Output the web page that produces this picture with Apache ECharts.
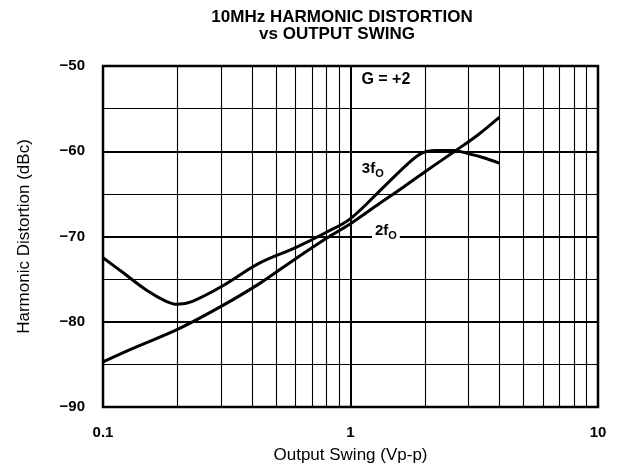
<!DOCTYPE html>
<html>
<head>
<meta charset="utf-8">
<script src="https://cdn.jsdelivr.net/npm/echarts@6/dist/echarts.min.js"></script>
<style>html,body{margin:0;padding:0;background:#fff;}#c{width:617px;height:474px;}</style>
</head>
<body>
<div id="c"></div>
<script>
const xTicks = [0.1, 1, 10];
const yTicks = [-90, -80, -70, -60, -50];
const minorX = [0.2, 0.3, 0.4, 0.5, 0.6, 0.7, 0.8, 0.9, 2, 3, 4, 5, 6, 7, 8, 9];

const x3f = [0.1, 0.12, 0.15, 0.18, 0.2, 0.23, 0.3, 0.43, 0.6, 0.8, 1.0, 1.36, 1.7, 1.95, 2.2, 2.6, 3.0, 3.4, 4.0];
const y3f = [-72.5, -74.2, -76.3, -77.6, -77.95, -77.6, -75.9, -73.1, -71.3, -69.5, -67.9, -64.2, -61.5, -60.2, -59.9, -59.9, -60.3, -60.7, -61.4];

const x2f = [0.1, 0.13, 0.2, 0.3, 0.43, 0.6, 0.8, 1.0, 1.3, 1.6, 2.0, 2.7, 3.3, 4.0];
const y2f = [-84.7, -83.2, -80.9, -78.2, -75.5, -72.6, -70.2, -68.5, -66.2, -64.4, -62.4, -59.8, -58.0, -56.0];

const FONT = "'Liberation Sans', Arial, Helvetica, sans-serif";
const chart = echarts.init(document.getElementById('c'), null, {renderer: 'canvas'});

const pair = (xs, ys) => xs.map((x, i) => [x, ys[i]]);

chart.setOption({
  backgroundColor: '#fff',
  animation: false,
  graphic: [
    {type: 'text', x: 342, y: 17, style: {text: '10MHz HARMONIC DISTORTION', textAlign: 'center', textVerticalAlign: 'middle', font: 'bold 17px ' + FONT, fill: '#000'}},
    {type: 'text', x: 337, y: 34, style: {text: 'vs OUTPUT SWING', textAlign: 'center', textVerticalAlign: 'middle', font: 'bold 17px ' + FONT, fill: '#000'}}
  ],
  grid: {left: 103, right: 19, top: 66, bottom: 67, show: true, borderColor: '#000', borderWidth: 2.5, backgroundColor: 'transparent'},
  xAxis: {
    type: 'log', logBase: 10, min: 0.1, max: 10,
    axisLine: {show: false}, axisTick: {show: false},
    axisLabel: {color: '#000', fontFamily: FONT, fontWeight: 'bold', fontSize: 15, margin: 18,
      formatter: v => (xTicks.some(t => Math.abs(t - v) < 1e-9) ? String(v) : '')},
    splitLine: {show: true, lineStyle: {color: '#000', width: 2}},
    name: 'Output Swing (Vp-p)', nameLocation: 'middle', nameGap: 40,
    nameTextStyle: {color: '#000', fontFamily: FONT, fontSize: 17}
  },
  yAxis: {
    type: 'value', min: -90, max: -50, interval: 10,
    axisLine: {show: false}, axisTick: {show: false},
    axisLabel: {color: '#000', fontFamily: FONT, fontWeight: 'bold', fontSize: 15, margin: 18,
      formatter: v => (v < 0 ? '\u2212' + Math.abs(v) : String(v))},
    splitLine: {show: true, lineStyle: {color: '#000', width: 1.8}},
    minorTick: {show: false, splitNumber: 2},
    minorSplitLine: {show: true, lineStyle: {color: '#000', width: 1.1}},
    name: 'Harmonic Distortion (dBc)', nameLocation: 'middle', nameGap: 70,
    nameTextStyle: {color: '#000', fontFamily: FONT, fontSize: 17}
  },
  series: [
    {
      name: '3fO', type: 'line', data: pair(x3f, y3f), smooth: 0.35, showSymbol: false, symbol: 'none',
      lineStyle: {color: '#000', width: 3}, z: 5,
      markLine: {
        silent: true, symbol: 'none', label: {show: false},
        lineStyle: {color: '#000', width: 1.1, type: 'solid'},
        data: minorX.map(v => ({xAxis: v})), z: 1
      },
      markPoint: {
        symbol: 'circle', symbolSize: 1, itemStyle: {color: 'rgba(0,0,0,0)'}, silent: true,
        label: {show: true, position: 'inside', color: '#000', fontFamily: FONT,
          rich: {b: {fontSize: 15, fontWeight: 'bold', fontFamily: FONT, color: '#000'},
                 g: {fontSize: 16, fontWeight: 'bold', fontFamily: FONT, color: '#000'},
                 s: {fontSize: 11, fontWeight: 'bold', fontFamily: FONT, color: '#000', padding: [10, 0, 0, 0]}}},
        data: [
          {coord: [1.23, -62.1], label: {formatter: '{b|3f}{s|O}'}},
          {coord: [1.39, -51.6], label: {formatter: '{g|G = +2}'}}
        ]
      }
    },
    {
      name: '2fO', type: 'line', data: pair(x2f, y2f), smooth: 0.35, showSymbol: false, symbol: 'none',
      lineStyle: {color: '#000', width: 3}, z: 5,
      markPoint: {
        symbol: 'circle', symbolSize: 1, itemStyle: {color: 'rgba(0,0,0,0)'}, silent: true,
        label: {show: true, position: 'inside', color: '#000', fontFamily: FONT,
          backgroundColor: '#fff', padding: [0, 3, 0, 3],
          rich: {b: {fontSize: 15, fontWeight: 'bold', fontFamily: FONT, color: '#000'},
                 s: {fontSize: 11, fontWeight: 'bold', fontFamily: FONT, color: '#000', padding: [10, 0, 0, 0]}}},
        data: [
          {coord: [1.39, -69.3], label: {formatter: '{b|2f}{s|O}'}}
        ]
      }
    }
  ]
});
</script>
</body>
</html>
